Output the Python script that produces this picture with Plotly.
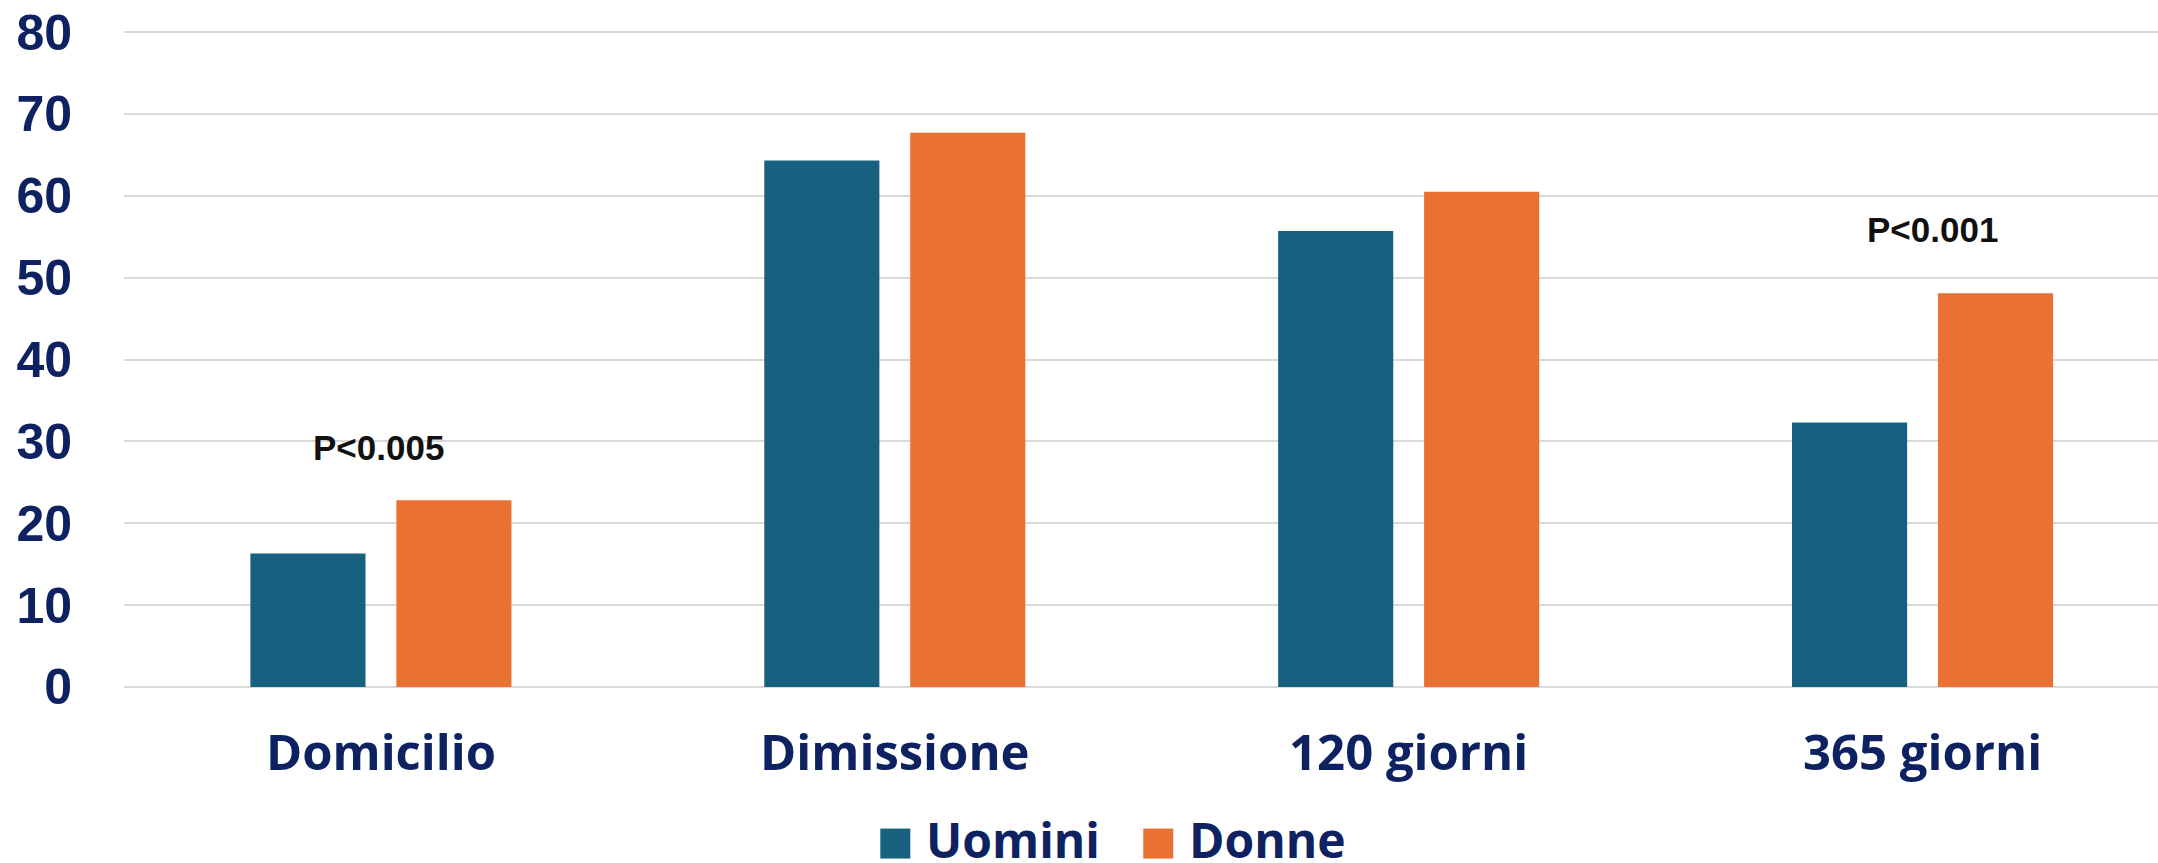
import plotly.graph_objects as go

# Data
categories = ["Domicilio", "Dimissione", "120 giorni", "365 giorni"]
uomini = [16.3, 64.3, 55.7, 32.3]
donne = [22.8, 67.7, 60.5, 48.1]
series_names = ["Uomini", "Donne"]
p_labels = ["P<0.005", "P<0.001"]
p_positions = [(-0.005, 29.3), (3.02, 55.9)]
y_ticks = [0, 10, 20, 30, 40, 50, 60, 70, 80]

COL_U = "#17607f"
COL_D = "#e97132"
NAVY = "#0e2262"

W, H = 2158, 863
PLOT_L, PLOT_R = 123.5, 2158
# small padding around 0..80 so that the end gridlines are kept
Y_MIN, Y_MAX = -0.25, 80.25
PX_PER_UNIT = (687.3 - 32.0) / 80.0
PLOT_B = 687.3 - Y_MIN * PX_PER_UNIT
PLOT_T = 32.0 - (Y_MAX - 80) * PX_PER_UNIT

fig = go.Figure()
bar_w = 0.224
fig.add_trace(go.Bar(x=list(range(len(categories))), y=uomini, name=series_names[0],
                     marker=dict(color=COL_U, line=dict(width=0)),
                     width=bar_w, offset=-0.254, showlegend=False))
fig.add_trace(go.Bar(x=list(range(len(categories))), y=donne, name=series_names[1],
                     marker=dict(color=COL_D, line=dict(width=0)),
                     width=bar_w, offset=0.030, showlegend=False))

# p-value annotations
for txt, (xv, yv) in zip(p_labels, p_positions):
    fig.add_annotation(x=xv, y=yv, text=txt, showarrow=False, xref="x", yref="y",
                       font=dict(family="Liberation Sans, Arial", size=35, color="#111111", weight=700))

def px_to_paper(px, py):
    return (px - PLOT_L) / (PLOT_R - PLOT_L), (PLOT_B - py) / (PLOT_B - PLOT_T)

# Legend drawn as squares and labels below the axis
legend_items = [(series_names[0], COL_U, 880), (series_names[1], COL_D, 1143)]
for name, col, sx in legend_items:
    x0, y0 = px_to_paper(sx, 859)
    x1, y1 = px_to_paper(sx + 30, 829)
    fig.add_shape(type="rect", xref="paper", yref="paper", x0=x0, x1=x1, y0=y0, y1=y1,
                  fillcolor=col, line=dict(width=0))
    tx, ty = px_to_paper(sx + 44, 840)
    fig.add_annotation(xref="paper", yref="paper", x=tx, y=ty, text=name, showarrow=False,
                       xanchor="left", yanchor="middle",
                       font=dict(family="Open Sans", size=48, color=NAVY, weight=700))

fig.update_layout(
    width=W, height=H,
    margin=dict(l=PLOT_L, r=W - PLOT_R, t=PLOT_T, b=H - PLOT_B, pad=0),
    paper_bgcolor="white", plot_bgcolor="white",
    barmode="overlay",
    xaxis=dict(range=[-0.5, -0.5 + (PLOT_R - PLOT_L) / 514.0],
               tickmode="array", tickvals=list(range(len(categories))), ticktext=categories,
               showgrid=False, zeroline=False, showline=False, ticks="",
               ticklabelstandoff=31,
               tickfont=dict(family="Open Sans", size=49, color=NAVY, weight=700)),
    yaxis=dict(range=[Y_MIN, Y_MAX], tickmode="array", tickvals=y_ticks,
               showgrid=True, gridcolor="#d9d9d9", gridwidth=1.6,
               zeroline=False, showline=False, ticks="",
               ticklabelstandoff=51,
               tickfont=dict(family="Liberation Sans, Arial", size=50, color=NAVY, weight=700)),
    showlegend=False,
)

fig.write_html("out.html")
